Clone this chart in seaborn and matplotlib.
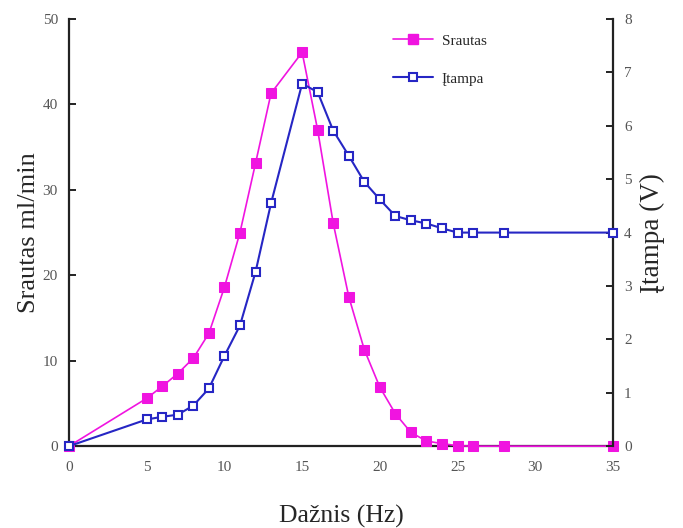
import pandas as pd
import seaborn as sns
import matplotlib.pyplot as plt
from matplotlib.lines import Line2D

# Frequency (Hz)
freq = [0, 5, 6, 7, 8, 9, 10, 11, 12, 13, 15, 16, 17, 18, 19, 20, 21, 22, 23, 24, 25, 26, 28, 35]
# Flow (ml/min)
srautas = [0, 5.6, 7.0, 8.5, 10.3, 13.2, 18.6, 25.0, 33.1, 41.3, 46.1, 37.0, 26.1, 17.5, 11.3,
           6.9, 3.8, 1.6, 0.6, 0.3, 0.05, 0.0, 0.0, 0.0]
# Voltage (V)
itampa = [0, 0.50, 0.55, 0.59, 0.76, 1.08, 1.69, 2.26, 3.26, 4.55, 6.79, 6.63, 5.91, 5.44, 4.95,
          4.62, 4.31, 4.23, 4.17, 4.08, 4.0, 4.0, 4.0, 4.0]

df = pd.DataFrame({'freq': freq, 'srautas': srautas, 'itampa': itampa})

pink = '#f014e0'
blue = '#2626c4'

sns.set_style('white')
plt.rcParams['font.family'] = ['Liberation Serif', 'DejaVu Serif']

fig = plt.figure(figsize=(6.83, 5.28), dpi=100)
ax = fig.add_axes([0.101, 0.155, 0.7965, 0.809])
ax2 = ax.twinx()

sns.lineplot(data=df, x='freq', y='srautas', ax=ax, color=pink, lw=1.2,
             marker='s', markersize=6.5, markeredgecolor=pink, markerfacecolor=pink,
             clip_on=False, zorder=3)
sns.lineplot(data=df, x='freq', y='itampa', ax=ax2, color=blue, lw=1.5,
             marker='s', markersize=6, markeredgecolor=blue, markerfacecolor='white',
             markeredgewidth=1.5, clip_on=False, zorder=3)

ax.set_xlim(0, 35)
ax.set_ylim(0, 50)
ax2.set_ylim(0, 8)
ax.set_xticks(range(0, 36, 5))
ax.set_yticks(range(0, 51, 10))
ax2.set_yticks(range(0, 9))

for a in (ax, ax2):
    a.spines['top'].set_visible(False)
    for s in ('left', 'right', 'bottom'):
        a.spines[s].set_linewidth(1.6)
        a.spines[s].set_color('#222222')
    a.tick_params(direction='in', length=5, width=1.4, labelsize=11, labelcolor='#555555',
                  color='#222222', pad=8)
ax.tick_params(axis='x', pad=11)
ax.spines['right'].set_visible(False)
ax2.spines['left'].set_visible(False)
ax2.spines['bottom'].set_visible(False)

ax.set_xlabel('Dažnis (Hz)', fontsize=18.5, labelpad=22)
ax.set_ylabel('Srautas ml/min', fontsize=19, labelpad=2)
ax2.set_ylabel('Įtampa (V)', fontsize=19.5, labelpad=6)

handles = [
    Line2D([], [], color=pink, marker='s', markersize=6.5, markerfacecolor=pink, lw=1.2),
    Line2D([], [], color=blue, marker='s', markersize=6, markerfacecolor='white', markeredgewidth=1.5, lw=1.5),
]
ax2.legend(handles, ['Srautas', 'Įtampa'], loc='upper left', bbox_to_anchor=(0.555, 0.962),
           bbox_transform=fig.transFigure, frameon=False, handlelength=2.6, handletextpad=0.6,
           labelspacing=1.6, prop={'size': 11})

fig.savefig('out.png', dpi=100)
